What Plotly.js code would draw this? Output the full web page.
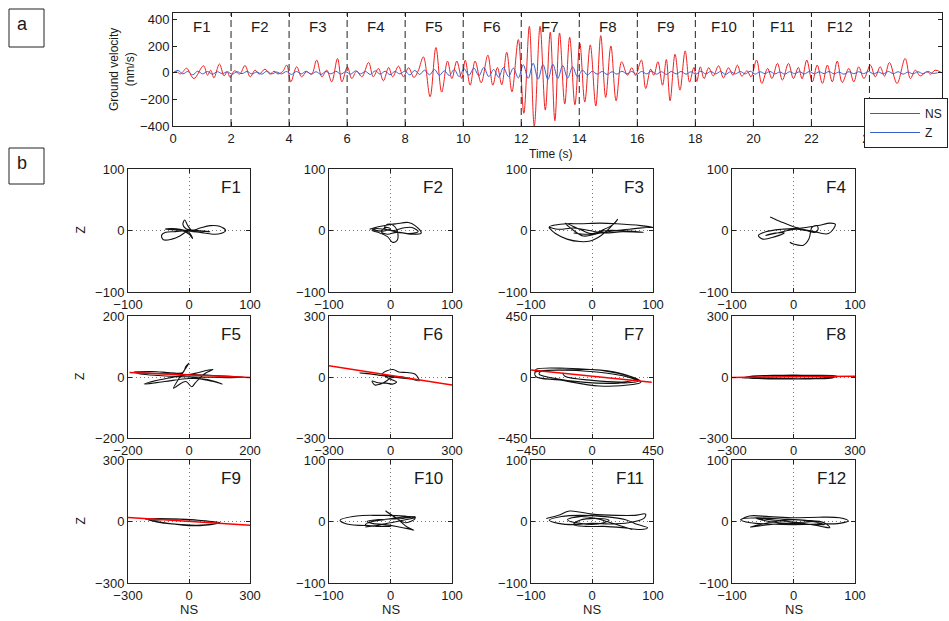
<!DOCTYPE html>
<html><head><meta charset="utf-8">
<script src="https://cdn.plot.ly/plotly-3.0.1.min.js"></script>
<style>html,body{margin:0;padding:0;background:#fff}</style>
</head><body><div id="chart" style="width:949px;height:621px"></div>
<script>
// ---------- panel a: waveforms ----------
const nsT = [0,0.12,0.25,0.35,0.47,0.72,1.05,1.19,1.3,1.41,1.6,1.76,1.87,1.97,2.12,2.3,2.48,2.66,2.83,2.97,3.17,3.34,3.48,3.62,3.78,3.92,4.06,4.26,4.43,4.6,4.78,4.95,5.13,5.3,5.47,5.67,5.82,6.01,6.16,6.33,6.51,6.74,6.9,7.08,7.25,7.43,7.57,7.77,7.94,8.12,8.3,8.45,8.63,8.86,9.06,9.26,9.46,9.61,9.78,9.95,10.07,10.24,10.41,10.62,10.85,11.02,11.18,11.33,11.5,11.68,11.9,12.09,12.28,12.45,12.65,12.83,13.0,13.16,13.32,13.5,13.67,13.85,14.02,14.19,14.38,14.57,14.74,14.91,15.09,15.27,15.46,15.66,15.81,15.94,16.14,16.29,16.46,16.57,16.71,16.87,17.0,17.13,17.3,17.47,17.65,17.8,17.95,18.05,18.17,18.3,18.46,18.62,18.8,18.97,19.14,19.3,19.45,19.6,19.78,19.92,20.11,20.29,20.49,20.64,20.83,21.0,21.21,21.38,21.55,21.68,21.84,22.03,22.2,22.38,22.55,22.72,22.89,23.06,23.29,23.46,23.63,23.81,24.03,24.2,24.37,24.52,24.69,24.95,25.23,25.41,25.58,25.75,25.98,26.1,26.26,26.5];
const nsV = [0,8,-8,10,35,-43,53,-18,20,-38,66,-23,8,-35,15,-10,55,-30,20,-10,28,-10,12,-8,10,58,-68,45,-30,8,-10,96,-30,20,-68,108,-68,45,-43,13,-30,78,-30,33,-60,40,-30,50,-30,38,-35,15,120,-180,190,-145,88,-43,88,-43,95,-93,88,-75,133,-93,40,-90,155,-143,250,-305,350,-400,350,-280,305,-360,300,-234,267,-240,222,-220,210,-250,280,-185,202,-210,83,-18,38,-18,96,-118,28,-18,83,-93,100,-210,140,-130,165,-70,40,-65,45,-43,38,-23,53,-38,38,-18,58,-25,15,-30,96,-80,33,-43,71,-55,71,-43,40,-45,96,-68,58,-80,58,-68,88,-73,33,-68,45,-43,58,-30,45,-25,78,-80,108,-43,20,-23,8,-10,20,0];
const zStart = 0;
const zStep = 0.17;
const zV = [0,18,-8,10,-15,12,-8,10,-10,8,-6,8,
  -10,8,-6,10,-8,6,-10,12,-8,6,-8,10,
  -12,10,-8,12,-10,8,-12,10,-8,12,-10,8,
  -10,14,-8,10,-12,15,-10,12,-14,10,-8,12,
  -15,18,-12,20,-15,25,-18,15,-20,25,-28,
  30,-18,35,-22,40,-28,25,-32,40,-28,35,-38,
  60,-42,72,-48,62,-50,65,-42,55,-40,45,-30,
  20,-15,12,-10,10,-12,8,-10,12,-8,10,-12,
  10,-8,12,-10,8,-12,10,-8,10,-10,8,
  -10,12,-8,10,-8,10,-12,8,-8,10,-8,12,
  -10,8,-6,10,-8,6,-10,8,-6,8,-8,10,
  -8,8,-6,10,-8,6,-10,8,-6,8,-6,10,
  -8,6,-8,10,-6,8,-10,6,-8,8,-6,10,-4,0];
const frameEdges = [0,2,4,6,8,10,12,14,16,18,20,22,24];
const frameNames = ['F1','F2','F3','F4','F5','F6','F7','F8','F9','F10','F11','F12'];
const timeTicks = [0,2,4,6,8,10,12,14,16,18,20,22,24];
const velTicks = [-400,-200,0,200,400];

// ---------- panel b: particle motion (NS, Z) per frame ----------
const hodoRange = [100,100,100,100,200,300,450,300,300,100,100,100];
const f1NS = [-39,-20,0,20,34,15,-5,-10,-7,-2,5,18,35,50,60,52,40,25,7,-4,-15,-28,-42,-45,-38,-25,-8,0,6,0,-15,-30,-39];
const f1Z  = [2,1,0,-1,-2,0,3,10,17,8,0,4,8,7,0,-5,-6,-4,-2,-2,-9,-14,-15,-8,-3,-2,-1,-6,-13,-3,2,3,2];
const f2NS = [-34,-20,-5,10,29,40,50,35,15,0,-10,-5,5,12,10,3,-5,-20,-30,-25,-10,5,20,35,45,30,10,-5,-15,-8,0,-12,-28];
const f2Z  = [2,6,9,11,13,8,-4,-6,-3,0,4,10,8,-5,-17,-19,-10,-3,0,3,2,0,4,5,-2,-5,-3,-6,-2,5,3,-1,1];
const f3NS = [-71,-60,-41,-20,-3,15,30,42,35,20,0,-20,-44,-30,-14,10,40,70,90,100,80,40,13,-20,-41,-60,-70,-55,-30,-5,20,50,84,60,25,-5,-30];
const f3Z  = [5,-5,-14,-18,-17,-8,5,18,10,2,-5,2,12,0,-9,-5,0,3,5,5,8,11,12,11,11,9,6,2,4,0,-4,-2,-3,-1,0,-6,-4];
const f4NS = [-38,-20,0,11,30,57,68,60,40,20,0,-20,-45,-57,-50,-30,-15,-30,-45,-30,-10,5,20,35,40,38,30,25,16,0,-6];
const f4Z  = [22,14,6,3,-1,-5,10,12,8,5,3,2,-2,-8,-14,-10,-4,-4,-8,-5,0,2,0,-3,2,8,5,-14,-24,-22,-19];
const f5NS = [-181,-120,-60,0,60,120,183,140,80,20,-40,-100,-160,-181,-120,-60,-20,-10,0,-10,-30,-51,-40,-10,9,20,50,79,60,20,-20,-60,-100,-147,-80,0,60,109,80,30,0];
const f5Z  = [15,12,10,8,6,3,-1,-2,-1,0,2,5,10,15,18,14,15,35,45,30,0,-37,-30,-15,-32,-20,10,25,22,12,5,-2,-10,-23,-15,-5,-8,-23,-15,-5,0];
const f6NS = [-150,-100,-50,0,50,100,140,119,80,40,13,-20,-40,-20,10,30,10,-20,-60,-90,-76,-50,-20,0,30,60,100,60,0,-60,-120,-150];
const f6Z  = [20,15,8,2,-5,-10,-18,15,22,25,37,30,15,0,-15,-25,-35,-30,-28,-20,-39,-35,-20,-5,0,0,-10,-5,5,10,18,20];
const f7NS = [-420,-413,-192,126,347,360,300,52,-241,-413,-420,-380,-200,100,300,340,200,-50,-300,-390,-380,-217,0,200,320,250,0,-200,-217];
const f7Z  = [35,56,64,39,-22,-40,-55,-66,-22,2,35,45,50,30,-10,-30,-45,-40,-5,20,40,51,55,30,-15,-35,-25,5,30];
const f8NS = [-251,-200,-100,0,100,200,214,150,50,-50,-150,-220,-180,-80,20,120,200,180,80,-20,-120,-200,-240];
const f8Z  = [-5,5,8,10,8,6,2,-4,-8,-10,-8,-5,4,6,5,3,0,-6,-9,-8,-5,-2,-5];
const f9NS = [-215,-150,-80,0,80,152,120,40,-40,-120,-180,-130,-50,30,110,140,80,0,-80,-160,-200];
const f9Z  = [11,14,12,8,3,-5,-12,-18,-15,-8,2,10,12,8,0,-8,-18,-20,-12,0,8];
const f10NS = [-41,-20,0,20,41,30,10,-10,-30,-41,-20,0,-30,-71,-82,-55,-20,22,40,25,10,-8,10,27,38,30,10,-10,-30,-38,-20,0,20,40];
const f10Z  = [-9,-6,-2,2,7,8,6,3,0,-5,-8,-8,-7,-4,2,9,10,9,5,-2,5,17,5,-9,-14,-12,-8,-5,-3,0,3,4,5,8];
const f11NS = [-75,-55,-37,0,40,70,88,85,60,30,0,-30,-55,-70,-50,-20,20,55,75,91,80,50,20,-10,-30,-20,10,28,10,-20,-40,-20,10,40,66];
const f11Z  = [5,10,17,12,10,10,12,5,-2,-4,-3,-5,-3,2,8,10,8,3,-5,-10,-13,-10,-8,-8,-5,2,5,2,-4,-3,3,8,4,-5,-13];
const f12NS = [-86,-72,-40,0,40,75,89,75,40,0,-40,-70,-86,-60,-20,20,50,59,45,10,-30,-60,-40,-10,20,50,30,0,-30,-70,-40,0,40];
const f12Z  = [3,9,8,6,7,6,1,-3,-4,-5,-4,-2,3,6,4,2,-2,-10,-8,-2,2,5,0,-3,-4,-5,0,3,0,-9,-5,-2,0];
// principal-direction lines (NS ends, Z ends) for F5..F9
const fitFrames = [5,6,7,8,9];
const fitNS = [[-195,200],[-300,300],[-450,440],[-300,300],[-300,300]];
const fitZ  = [[15,-2],[55,-40],[51,-39],[-2,4],[20,-18]];

const hodoNS = [f1NS,f2NS,f3NS,f4NS,f5NS,f6NS,f7NS,f8NS,f9NS,f10NS,f11NS,f12NS];
const hodoZ  = [f1Z,f2Z,f3Z,f4Z,f5Z,f6Z,f7Z,f8Z,f9Z,f10Z,f11Z,f12Z];

// ---------- layout geometry (pixels) ----------
const W = 949, H = 621;
const px = x => x / W, py = y => 1 - y / H;
const colPx = [[128,250],[329,452],[531,653],[732,855]];
const rowPx = [[169,292],[316,438],[460,583]];
const FONT = 'Liberation Sans, Arial, sans-serif';
const TXT = '#1a1a1a';

const traces = [];
traces.push({x: nsT, y: nsV, type: 'scatter', mode: 'lines', name: 'NS',
  line: {color: '#f02020', width: 1, shape: 'spline', smoothing: 1}, xaxis: 'x', yaxis: 'y'});
traces.push({y: zV, x0: zStart, dx: zStep, type: 'scatter', mode: 'lines', name: 'Z',
  line: {color: '#3a5fcd', width: 1, shape: 'spline', smoothing: 1}, xaxis: 'x', yaxis: 'y'});

const layout = {
  width: W, height: H, autosize: false,
  margin: {l: 0, r: 0, t: 0, b: 0},
  paper_bgcolor: '#fff', plot_bgcolor: '#fff',
  font: {family: FONT, size: 13, color: TXT},
  showlegend: true,
  legend: {x: px(864), y: py(98), xanchor: 'left', yanchor: 'top',
    bgcolor: '#fff', bordercolor: '#222', borderwidth: 1, itemwidth: 50,
    font: {family: FONT, size: 12, color: TXT}, tracegroupgap: 0},
  xaxis: {domain: [px(173), px(942)], range: [0, 26.5], tickvals: timeTicks,
    ticks: 'inside', ticklen: 4, tickcolor: '#222', showline: true, linecolor: '#222', linewidth: 1,
    mirror: 'ticks', showgrid: false, zeroline: false, anchor: 'y', tickfont: {size: 13}},
  yaxis: {domain: [py(126), py(13)], range: [-400, 450], tickvals: velTicks,
    ticks: 'inside', ticklen: 4, tickcolor: '#222', showline: true, linecolor: '#222', linewidth: 1,
    mirror: 'ticks', showgrid: false, zeroline: false, anchor: 'x', tickfont: {size: 13}},
  shapes: [], annotations: []
};

function note(x, y, text, size, extra) {
  layout.annotations.push(Object.assign({xref: 'paper', yref: 'paper', x: px(x), y: py(y),
    xanchor: 'center', yanchor: 'middle', text: text, showarrow: false,
    font: {size: size, color: TXT}}, extra || {}));
}

// frame separators and labels
for (let i = 1; i < frameEdges.length; i++) {
  layout.shapes.push({type: 'line', xref: 'x', yref: 'y domain', x0: frameEdges[i], x1: frameEdges[i],
    y0: 0, y1: 1, line: {color: '#222', width: 1, dash: '7px,4px'}});
}
for (let i = 0; i < frameNames.length; i++) {
  layout.annotations.push({xref: 'x', yref: 'paper', x: (frameEdges[i] + frameEdges[i+1]) / 2,
    y: py(27), xanchor: 'center', yanchor: 'middle', text: frameNames[i], showarrow: false,
    font: {size: 15, color: TXT}});
}
note(122, 70, 'Ground velocity<br>(nm/s)', 12, {textangle: -90});
note(551, 154, 'Time (s)', 12);

// panel letter boxes
[['a', 9, 9, 44, 47], ['b', 9, 148, 44, 184]].forEach(([t, x0, y0, x1, y1]) => {
  layout.shapes.push({type: 'rect', xref: 'paper', yref: 'paper', x0: px(x0), x1: px(x1),
    y0: py(y1), y1: py(y0), line: {color: '#222', width: 1}, fillcolor: 'rgba(0,0,0,0)'});
  note(x0 + 13, y0 + 15, t, 18);
});

// hodograms
for (let k = 0; k < 12; k++) {
  const r = Math.floor(k / 4), c = k % 4, n = k + 2;
  const xa = 'x' + n, ya = 'y' + n, R = hodoRange[k];
  traces.push({x: hodoNS[k], y: hodoZ[k], type: 'scatter', mode: 'lines', showlegend: false,
    line: {color: '#111', width: 1.1, shape: 'spline', smoothing: 1}, xaxis: xa, yaxis: ya});
  const fi = fitFrames.indexOf(k + 1);
  if (fi >= 0) {
    traces.push({x: fitNS[fi], y: fitZ[fi], type: 'scatter', mode: 'lines', showlegend: false,
      line: {color: '#ff0000', width: 1.5}, xaxis: xa, yaxis: ya});
  }
  const common = {ticks: 'inside', ticklen: 4, tickcolor: '#222', showline: true, linecolor: '#222',
    linewidth: 1, mirror: 'ticks', zeroline: false, showgrid: true, griddash: '1px,3px',
    gridcolor: '#777', gridwidth: 1, tickfont: {size: 13}, range: [-R, R], tickvals: [-R, 0, R]};
  layout['xaxis' + n] = Object.assign({}, common, {domain: [px(colPx[c][0]), px(colPx[c][1])], anchor: ya});
  layout['yaxis' + n] = Object.assign({}, common, {domain: [py(rowPx[r][1]), py(rowPx[r][0])], anchor: xa});
  layout.annotations.push({xref: xa + ' domain', yref: ya + ' domain', x: 1, y: 1, xanchor: 'right',
    yanchor: 'middle', xshift: -7, yshift: -18, text: frameNames[k], showarrow: false,
    font: {size: 17, color: TXT}});
}
rowPx.forEach(rp => note(80, (rp[0] + rp[1]) / 2, 'Z', 12, {textangle: -90}));
colPx.forEach(cp => note((cp[0] + cp[1]) / 2, 609, 'NS', 13));

Plotly.newPlot('chart', traces, layout, {displayModeBar: false, staticPlot: true});
</script>
</body></html>
